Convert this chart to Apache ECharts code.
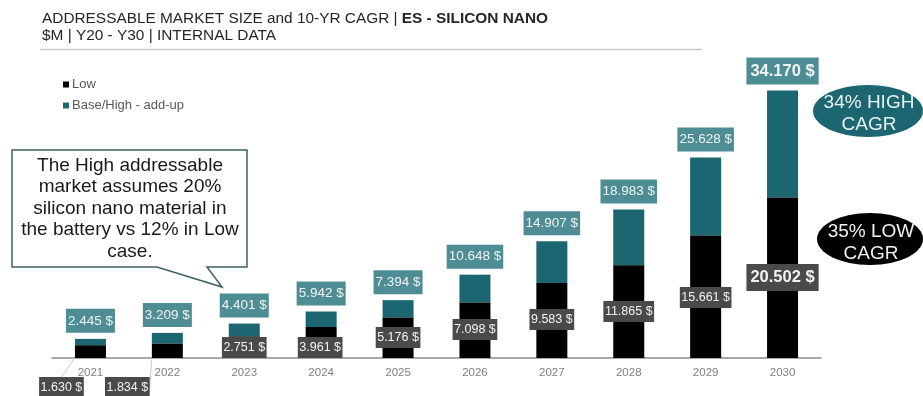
<!DOCTYPE html>
<html>
<head>
<meta charset="utf-8">
<script src="https://cdn.jsdelivr.net/npm/echarts@6/dist/echarts.min.js"></script>
<style>
  html, body { margin: 0; padding: 0; background: #fff; }
  #chart { width: 923px; height: 396px; }
</style>
</head>
<body>
<div id="chart"></div>
<script>
// Addressable market, $M, 2021-2030
const years = ['2021', '2022', '2023', '2024', '2025', '2026', '2027', '2028', '2029', '2030'];
const lowCase = [1630, 1834, 2751, 3961, 5176, 7098, 9583, 11865, 15661, 20502];
const highCase = [2445, 3209, 4401, 5942, 7394, 10648, 14907, 18983, 25628, 34170];
const seriesNames = ['Low', 'Base/High - add-up'];

// Label nudges for the Low values (dx, dy in px from the bar's inside-bottom spot)
const lowLabelNudge = [[-29, 40], [-40, 40], [0, 0], [-1, 0], [0, -10], [0, -18], [0, -28], [0, -36], [0, -50], [0, -67]];

const TEAL = '#1b6670';
const TEAL_LABEL = '#4f8d95';
const DARK_LABEL = '#4a4a4a';
const FONT = 'Liberation Sans, Arial, sans-serif';

function money(n) {
  const th = Math.floor(n / 1000);
  const rest = String(n % 1000).padStart(3, '0');
  return th + '.' + rest + ' $';
}

const last = years.length - 1;
const addUp = highCase.map((v, i) => v - lowCase[i]);

const chart = echarts.init(document.getElementById('chart'), null, { renderer: 'canvas' });

chart.setOption({
  animation: false,
  textStyle: { fontFamily: FONT },
  grid: { left: 52, right: 102, top: 45, bottom: 38 },
  legend: {
    data: seriesNames,
    orient: 'vertical',
    left: 58,
    top: 73,
    icon: 'rect',
    itemWidth: 6,
    itemHeight: 6,
    itemGap: 8,
    textStyle: { fontSize: 13, color: '#595959', fontFamily: FONT, padding: [0, 0, 0, -2] }
  },
  xAxis: {
    type: 'category',
    data: years,
    axisLine: { lineStyle: { color: '#8c8c8c', width: 1.5 } },
    axisTick: { show: false },
    axisLabel: { color: '#7f7f7f', fontSize: 11.5, margin: 9 }
  },
  yAxis: {
    type: 'value',
    min: 0,
    max: 40000,
    show: false,
    splitLine: { show: false }
  },
  series: [
    {
      name: seriesNames[0],
      type: 'bar',
      stack: 'market',
      barWidth: 31,
      itemStyle: { color: '#000' },
      data: lowCase.map((v, i) => ({
        value: v,
        label: i === last ? { fontSize: 16.5, fontWeight: 'bold', padding: [5, 4] } : {}
      })),
      label: {
        show: true,
        position: 'insideBottom',
        distance: 0,
        formatter: p => money(lowCase[p.dataIndex]),
        color: '#f2f2f2',
        fontSize: 12.5,
        backgroundColor: DARK_LABEL,
        padding: [4, 1.5]
      },
      labelLine: { show: true, lineStyle: { color: '#c8c8c8', width: 1 } },
      labelLayout: p => ({ dx: lowLabelNudge[p.dataIndex][0], dy: lowLabelNudge[p.dataIndex][1] }),
      z: 3
    },
    {
      name: seriesNames[1],
      type: 'bar',
      stack: 'market',
      barWidth: 31,
      itemStyle: { color: TEAL },
      data: addUp.map((v, i) => ({
        value: v,
        label: i === last ? { fontSize: 16.5, fontWeight: 'bold', padding: [5, 4] } : {}
      })),
      label: {
        show: true,
        position: 'top',
        distance: 6,
        formatter: p => money(highCase[p.dataIndex]),
        color: '#eef5f5',
        fontSize: 13.5,
        backgroundColor: TEAL_LABEL,
        padding: [5, 2]
      },
      z: 2
    }
  ],
  graphic: [
    {
      type: 'text',
      left: 42,
      top: 10,
      style: {
        text: 'ADDRESSABLE MARKET SIZE and 10-YR CAGR | {b|ES - SILICON NANO}\n$M | Y20 - Y30 | INTERNAL DATA',
        fill: '#262626',
        font: '15.4px ' + FONT,
        lineHeight: 17,
        rich: { b: { fontWeight: 'bold', fontSize: 15.4, fill: '#262626', fontFamily: FONT } }
      }
    },
    {
      type: 'line',
      shape: { x1: 40, y1: 49.5, x2: 702, y2: 49.5 },
      style: { stroke: '#c9c9c9', lineWidth: 1.5 }
    },
    {
      type: 'polygon',
      shape: {
        points: [[12, 150], [247, 150], [247, 267], [207, 267], [222, 287], [157, 267], [12, 267]]
      },
      style: { fill: '#fff', stroke: '#3d5f63', lineWidth: 1.5 },
      z: 10
    },
    {
      type: 'text',
      x: 130,
      y: 155,
      style: {
        text: 'The High addressable\nmarket assumes 20%\nsilicon nano material in\nthe battery vs 12% in Low\ncase.',
        font: '19px ' + FONT,
        lineHeight: 21.5,
        fill: '#1a1a1a',
        align: 'center',
        verticalAlign: 'top'
      },
      z: 11
    },
    {
      type: 'ellipse',
      shape: { cx: 868, cy: 111, rx: 55, ry: 26 },
      style: { fill: TEAL },
      z: 10
    },
    {
      type: 'text',
      x: 869,
      y: 114,
      style: {
        text: '34% HIGH\nCAGR',
        font: '19px ' + FONT,
        lineHeight: 22,
        fill: '#e9f2f2',
        align: 'center',
        verticalAlign: 'middle'
      },
      z: 11
    },
    {
      type: 'ellipse',
      shape: { cx: 870, cy: 239, rx: 53, ry: 26 },
      style: { fill: '#000' },
      z: 10
    },
    {
      type: 'text',
      x: 871,
      y: 243,
      style: {
        text: '35% LOW\nCAGR',
        font: '19px ' + FONT,
        lineHeight: 22,
        fill: '#f0f0f0',
        align: 'center',
        verticalAlign: 'middle'
      },
      z: 11
    }
  ]
});
</script>
</body>
</html>
